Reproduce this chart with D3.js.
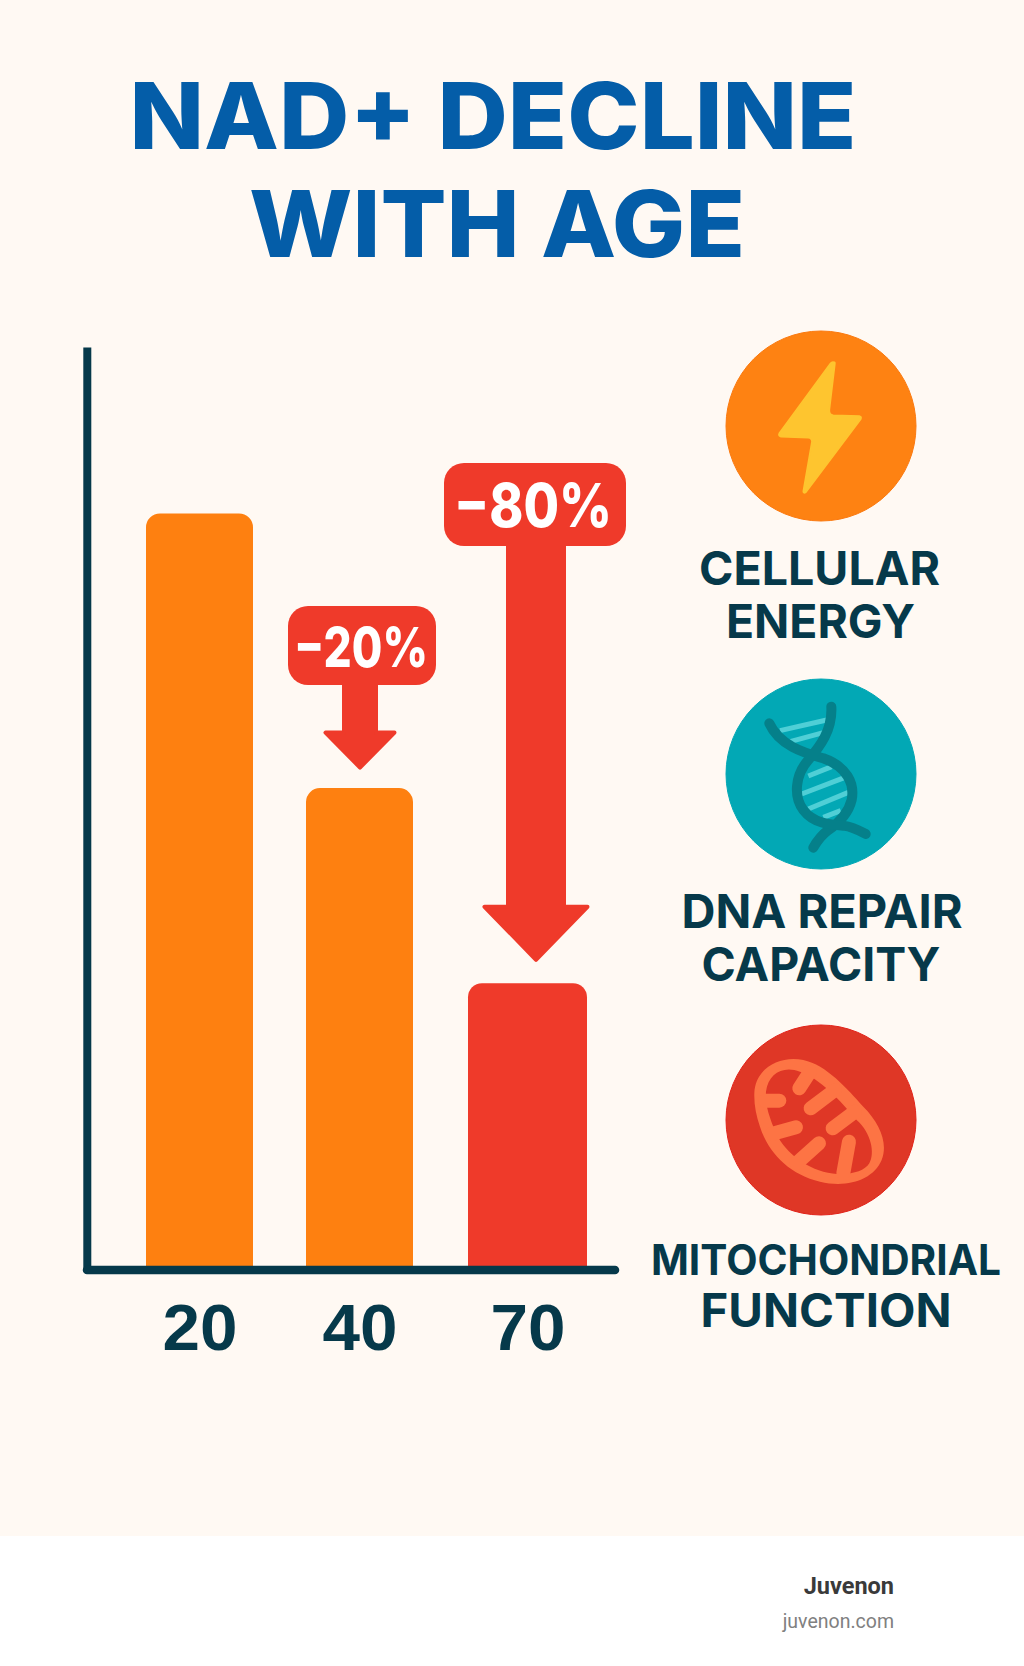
<!DOCTYPE html>
<html>
<head>
<meta charset="utf-8">
<script src="https://cdn.jsdelivr.net/npm/d3@7"></script>
<style>
  html, body { margin: 0; padding: 0; background: #fff; }
  svg { display: block; }
  text { font-family: Inter, "Noto Sans", sans-serif; }
</style>
</head>
<body>
<svg id="chart" width="1024" height="1666"></svg>
<script>
const titleLines = ["NAD+ DECLINE", "WITH AGE"];
const ages = ["20", "40", "70"];
const nadLevels = [100, 63.7, 37.9];
const barColors = ["#fe8010", "#fe8010", "#ef3a2a"];
const dropAges = ["40", "70"];
const dropLabels = ["\u221220%", "\u221280%"];
const benefitLabels = [
  ["CELLULAR", "ENERGY"],
  ["DNA REPAIR", "CAPACITY"],
  ["MITOCHONDRIAL", "FUNCTION"],
];
const footerLines = ["Juvenon", "juvenon.com"];

const width = 1024, height = 1666;
const ink = "#06394a", red = "#ef3a2a";
const svg = d3.select("#chart");

svg.append("rect").attr("width", width).attr("height", 1536).attr("fill", "#fff9f3");

// title
const titleFit = [
  { cx: 493, y: 149, size: 92, len: 727 },
  { cx: 497, y: 257, size: 92, len: 496 },
];
svg.selectAll(".title").data(titleLines).join("text")
  .attr("class", "title")
  .attr("x", (d, i) => titleFit[i].cx)
  .attr("y", (d, i) => titleFit[i].y)
  .attr("text-anchor", "middle")
  .attr("font-size", (d, i) => titleFit[i].size)
  .attr("font-weight", 800)
  .attr("textLength", (d, i) => titleFit[i].len)
  .attr("lengthAdjust", "spacingAndGlyphs")
  .attr("fill", "#045da8")
  .text((d) => d);

// scales: the bars are not evenly spaced in the picture, so ordinal ranges
const x = d3.scaleOrdinal().domain(ages).range([199.5, 359.5, 527.5]);
const barW = d3.scaleOrdinal().domain(ages).range([107, 107, 119]);
const y = d3.scaleLinear().domain([0, 122]).range([1270, 347]);

const barPath = (age, value) => {
  const r = 14, w = barW(age), l = x(age) - w / 2, t = y(value), b = y(0);
  const p = d3.path();
  p.moveTo(l, b);
  p.lineTo(l, t + r);
  p.arcTo(l, t, l + r, t, r);
  p.lineTo(l + w - r, t);
  p.arcTo(l + w, t, l + w, t + r, r);
  p.lineTo(l + w, b);
  p.closePath();
  return p.toString();
};

svg.selectAll(".bar").data(ages).join("path")
  .attr("class", "bar")
  .attr("d", (d, i) => barPath(d, nadLevels[i]))
  .attr("fill", (d, i) => barColors[i]);

// axes
const xAxis = svg.append("g")
  .attr("transform", `translate(0,${y(0)})`)
  .call(d3.axisBottom(x).tickSize(0).tickPadding(0));
xAxis.select(".domain").remove();
xAxis.selectAll("text")
  .attr("dy", 0).attr("y", 80)
  .style("font-family", "'Liberation Sans'")
  .attr("font-size", 65).attr("font-weight", 700)
  .attr("textLength", 75).attr("lengthAdjust", "spacingAndGlyphs")
  .attr("fill", ink);

svg.append("g").attr("transform", "translate(86.8,0)")
  .call(d3.axisLeft(y).tickValues([]).tickSizeOuter(0))
  .select(".domain").attr("stroke", ink).attr("stroke-width", 8);
svg.append("line")
  .attr("x1", 87).attr("x2", 615).attr("y1", y(0)).attr("y2", y(0))
  .attr("stroke", ink).attr("stroke-width", 8.5).attr("stroke-linecap", "round");

// drop arrows with badges
const dropFit = [
  { dx: 0.5, gap: 18.5, shaft: 36, headW: 75, headH: 39, l: 288, r: 436, t: 606, b: 685, size: 55, base: 667, len: 134, tx: -1 },
  { dx: 8.5, gap: 21.5, shaft: 60, headW: 109, headH: 57, l: 444, r: 626, t: 463, b: 546, size: 60, base: 527, len: 158, tx: -2 },
];
const drops = svg.selectAll(".drop").data(dropAges).join("g").attr("class", "drop");
drops.append("path")
  .attr("d", (d, i) => {
    const f = dropFit[i], cx = x(d) + f.dx;
    const tip = y(nadLevels[ages.indexOf(d)]) - f.gap - 2, neck = tip - f.headH + 4;
    const s = f.shaft / 2 - 2, h = f.headW / 2 - 3;
    return d3.line()([
      [cx - s, f.b - 2], [cx + s, f.b - 2], [cx + s, neck],
      [cx + h, neck], [cx, tip], [cx - h, neck], [cx - s, neck],
    ]) + "Z";
  })
  .attr("fill", red).attr("stroke", red).attr("stroke-width", 4).attr("stroke-linejoin", "round");
drops.append("rect")
  .attr("x", (d, i) => dropFit[i].l).attr("y", (d, i) => dropFit[i].t)
  .attr("width", (d, i) => dropFit[i].r - dropFit[i].l)
  .attr("height", (d, i) => dropFit[i].b - dropFit[i].t)
  .attr("rx", 20).attr("fill", red);
drops.append("text")
  .attr("x", (d, i) => (dropFit[i].l + dropFit[i].r) / 2 + dropFit[i].tx)
  .attr("y", (d, i) => dropFit[i].base)
  .attr("text-anchor", "middle")
  .attr("font-size", (d, i) => dropFit[i].size)
  .attr("font-weight", 800)
  .attr("textLength", (d, i) => dropFit[i].len)
  .attr("lengthAdjust", "spacingAndGlyphs")
  .attr("fill", "#fff")
  .text((d, i) => dropLabels[i]);

// benefit icons, drawn in the pixel grid of a crop so the shapes are easy to trace
const circles = [
  { cy: 426, fill: "#fe8212", edge: "#fb7a10" },
  { cy: 774, fill: "#02a8b5", edge: "#02a8b5" },
  { cy: 1120, fill: "#df3726", edge: "#e2231a" },
];
svg.selectAll(".icon").data(circles).join("circle")
  .attr("class", "icon")
  .attr("cx", 821).attr("cy", (d) => d.cy).attr("r", 95)
  .attr("fill", (d) => d.fill).attr("stroke", (d) => d.edge).attr("stroke-width", 1);

const bolt = svg.append("g").attr("transform", "translate(680,310) scale(0.3333)");
bolt.append("path")
  .attr("d", "M462 157 Q466 155 464 166 L448 300 Q447 315 460 316 L538 318 Q546 320 542 328 L378 546 Q370 552 370 544 L396 395 Q396 384 385 383 L303 380 Q294 378 298 370 L452 160 Q456 155 462 157 Z")
  .attr("fill", "#fec52f").attr("stroke", "#fec52f").attr("stroke-width", 5).attr("stroke-linejoin", "round");

const dna = svg.append("g").attr("transform", "translate(680,660) scale(0.3333)");
dna.selectAll(".rung")
  .data([[300, 212, 440, 180], [330, 245, 430, 218], [385, 348, 455, 320], [365, 402, 495, 352], [385, 447, 505, 397], [430, 472, 482, 452]])
  .join("line")
  .attr("class", "rung")
  .attr("x1", (d) => d[0]).attr("y1", (d) => d[1]).attr("x2", (d) => d[2]).attr("y2", (d) => d[3])
  .attr("stroke", "#4fcfd6").attr("stroke-width", 15);
dna.selectAll(".strand")
  .data([
    "M268 190 C300 260 380 280 430 295 C500 320 525 370 515 420 C505 460 475 490 445 510 C425 525 410 545 400 563",
    "M454 140 C458 210 420 260 385 300 C345 345 340 410 370 450 C400 490 450 495 490 497 C515 500 535 510 557 522",
  ])
  .join("path")
  .attr("class", "strand")
  .attr("d", (d) => d)
  .attr("fill", "none").attr("stroke", "#05808a").attr("stroke-width", 30).attr("stroke-linecap", "round");

const mito = svg.append("g").attr("transform", "translate(640,1010) scale(0.3333)");
mito.append("path")
  .attr("d", "M343 250 C345 175 420 135 490 150 C560 165 620 235 670 290 C720 340 745 400 725 450 C700 510 620 535 540 515 C450 495 385 430 360 350 C348 315 342 285 343 250 Z")
  .attr("fill", "#fd7444");
mito.append("path")
  .attr("d", "M378 245 C385 190 430 165 480 185 C540 205 600 270 650 330 C695 370 705 430 688 460 C670 490 610 500 550 485 C480 465 420 410 400 350 C385 310 375 280 378 245 Z")
  .attr("fill", "#df3726");
mito.selectAll(".crista")
  .data([[375, 272, 418, 272], [478, 235, 510, 185], [512, 295, 585, 240], [578, 355, 645, 305], [395, 372, 468, 352], [470, 460, 537, 400], [610, 490, 627, 395]])
  .join("line")
  .attr("class", "crista")
  .attr("x1", (d) => d[0]).attr("y1", (d) => d[1]).attr("x2", (d) => d[2]).attr("y2", (d) => d[3])
  .attr("stroke", "#fd7444").attr("stroke-width", 42).attr("stroke-linecap", "round");

// benefit captions
const captionFit = [
  [{ cx: 819.5, y: 585, size: 47, len: 241 }, { cx: 820.5, y: 638, size: 47, len: 189 }],
  [{ cx: 822, y: 928, size: 47, len: 281 }, { cx: 821, y: 981, size: 47, len: 239 }],
  [{ cx: 826, y: 1275, size: 42, len: 350 }, { cx: 826, y: 1327, size: 46, len: 251 }],
];
benefitLabels.forEach((lines, i) => {
  svg.selectAll(`.cap${i}`).data(lines).join("text")
    .attr("class", `cap${i}`)
    .attr("x", (d, j) => captionFit[i][j].cx)
    .attr("y", (d, j) => captionFit[i][j].y)
    .attr("text-anchor", "middle")
    .attr("font-size", (d, j) => captionFit[i][j].size)
    .attr("font-weight", 700)
    .attr("textLength", (d, j) => captionFit[i][j].len)
    .attr("lengthAdjust", "spacingAndGlyphs")
    .attr("fill", ink)
    .text((d) => d);
});

// footer
svg.selectAll(".footer").data(footerLines).join("text")
  .attr("class", "footer")
  .attr("x", 894)
  .attr("y", (d, i) => [1594, 1628][i])
  .attr("text-anchor", "end")
  .style("font-family", "Roboto")
  .attr("font-size", (d, i) => [23.5, 19.5][i])
  .attr("font-weight", (d, i) => [700, 400][i])
  .attr("fill", (d, i) => ["#3a3a3a", "#808080"][i])
  .text((d) => d);
</script>
</body>
</html>
